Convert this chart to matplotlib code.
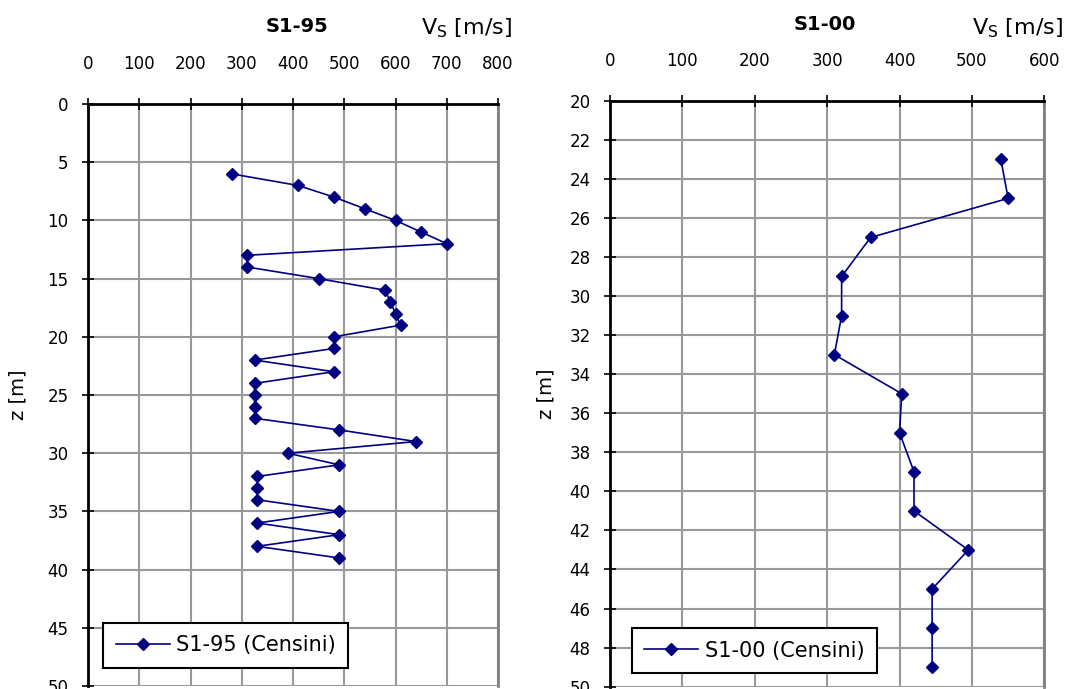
import matplotlib.pyplot as plt

plt.rcParams['font.family'] = ['DejaVu Sans']

# S1-95 profile (Censini)
vs_95 = [280, 410, 480, 540, 600, 650, 700, 310, 310, 450, 580, 590, 600, 610,
         480, 480, 325, 480, 325, 325, 325, 325, 490, 640, 390, 490, 330, 330,
         330, 490, 330, 490, 330, 490]
z_95 = [6, 7, 8, 9, 10, 11, 12, 13, 14, 15, 16, 17, 18, 19,
        20, 21, 22, 23, 24, 25, 26, 27, 28, 29, 30, 31, 32, 33,
        34, 35, 36, 37, 38, 39]

# S1-00 profile (Censini)
vs_00 = [540, 550, 360, 320, 320, 310, 403, 400, 420, 420, 495, 445, 445, 445]
z_00 = [23, 25, 27, 29, 31, 33, 35, 37, 39, 41, 43, 45, 47, 49]

navy = '#000080'
grid_col = '#999999'

fig = plt.figure(figsize=(10.69, 6.89), dpi=100)
ax1 = fig.add_axes([88 / 1069, 1 - 686 / 689, 410 / 1069, 582 / 689])
ax2 = fig.add_axes([610 / 1069, 1 - 686.7 / 689, 434.3 / 1069, 586 / 689])


def style(ax, xmax, xstep, ymin, ymax, ystep):
    ax.set_xlim(0, xmax)
    ax.set_ylim(ymax, ymin)
    ax.set_xticks(range(0, xmax + 1, xstep))
    ax.set_yticks(range(ymin, ymax + 1, ystep))
    ax.xaxis.tick_top()
    ax.grid(True, color=grid_col, linewidth=1.5)
    ax.set_axisbelow(True)
    ax.tick_params(axis='x', direction='inout', length=8, width=1.2, pad=18,
                   labelsize=12)
    ax.tick_params(axis='y', direction='inout', length=8, width=1.2, pad=10,
                   labelsize=12)
    ax.tick_params(top=True, bottom=False)
    for s in ['left', 'top']:
        ax.spines[s].set_linewidth(2)
        ax.spines[s].set_color('black')
    ax.spines['right'].set_color('#808080')
    ax.spines['right'].set_linewidth(2)
    ax.spines['bottom'].set_visible(False)
    ax.set_ylabel('z [m]', fontsize=14)


ax1.plot(vs_95, z_95, color=navy, marker='D', markersize=6, linewidth=1.2,
         label='S1-95 (Censini)', clip_on=False)
style(ax1, 800, 100, 0, 50, 5)
ax1.yaxis.labelpad = 14

ax2.plot(vs_00, z_00, color=navy, marker='D', markersize=6, linewidth=1.2,
         label='S1-00 (Censini)', clip_on=False)
style(ax2, 600, 100, 20, 50, 2)
ax2.yaxis.labelpad = 10

for ax, anchor in [(ax1, (0.037, 0.031)), (ax2, (0.05, 0.023))]:
    leg = ax.legend(loc='lower left', bbox_to_anchor=anchor, fontsize=15,
                    frameon=True, fancybox=False, framealpha=1,
                    handlelength=2.6, handletextpad=0.3, borderpad=0.6,
                    borderaxespad=0)
    leg.get_frame().set_edgecolor('black')
    leg.get_frame().set_linewidth(1.5)

fig.text(297 / 1069, 1 - 27 / 689, 'S1-95', fontsize=14, fontweight='bold',
         ha='center', va='center')
fig.text(825 / 1069, 1 - 25 / 689, 'S1-00', fontsize=14, fontweight='bold',
         ha='center', va='center')
fig.text(467 / 1069, 1 - 28 / 689, r'V$_{\mathrm{S}}$ [m/s]', fontsize=16,
         ha='center', va='center')
fig.text(1018 / 1069, 1 - 28 / 689, r'V$_{\mathrm{S}}$ [m/s]', fontsize=16,
         ha='center', va='center')

fig.savefig('out.png', dpi=100)
